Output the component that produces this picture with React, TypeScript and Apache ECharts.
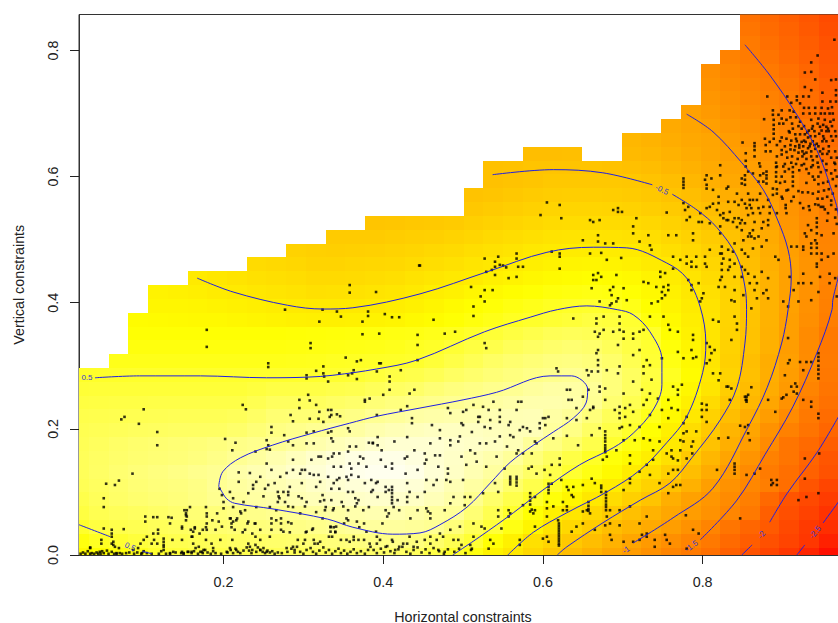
import React, { useEffect, useRef } from "react";
import * as echarts from "echarts";

const xTicks = [0.2, 0.4, 0.6, 0.8];
const yTicks = [0, 0.2, 0.4, 0.6, 0.8];
const firstX = 0.019, stepX = 0.02471, firstY = 0.0006, stepY = 0.02192;

// z * 100 per image row, bottom row first; leading empty cells counted in heatSkip
const heatSkip = [0,0,0,0,0,0,0,0,0,0,0,0,0,0,2,3,3,3,4,4,6,9,11,13,15,20,20,21,21,23,28,30,31,32,32,32,33,34,34,34];
const _ = null;
const heatRows: (number | null)[][] = [
[20,28,35,43,52,58,62,65,67,68,70,72,74,76,78,79,78,74,63,50,37,13,-4,-25,-46,-62,-76,-92,-107,-122,-138,-153,-167,-189,-207,-225,-245,-270,-300],
[35,45,52,58,63,67,70,73,76,78,80,82,85,88,90,92,93,90,80,68,54,31,9,-13,-29,-45,-60,-76,-93,-110,-125,-140,-155,-175,-193,-210,-227,-245,-275],
[50,60,65,68,72,75,78,82,85,88,90,93,96,100,103,105,105,103,100,88,72,56,38,15,-8,-25,-42,-60,-72,-88,-104,-120,-140,-160,-180,-197,-220,-240,-257],
[60,68,72,75,78,82,85,88,92,95,98,100,105,108,112,114,114,110,105,102,85,68,50,30,10,-5,-25,-42,-57,-75,-91,-105,-120,-137,-154,-190,-212,-230,-250],
[65,72,78,82,85,88,92,98,103,107,110,115,118,122,125,127,127,124,118,110,97,80,65,50,33,17,-3,-18,-35,-52,-80,-100,-115,-130,-146,-176,-205,-220,-238],
[70,75,80,85,88,90,93,100,106,110,115,120,125,130,133,135,135,132,125,116,107,98,80,65,50,33,15,3,-15,-33,-55,-78,-103,-120,-135,-147,-170,-205,-225],
[72,77,83,87,90,93,97,100,110,115,120,127,132,138,142,144,144,140,132,124,115,106,92,78,65,52,38,22,3,-14,-35,-60,-85,-108,-130,-152,-168,-188,-208],
[72,76,80,83,85,87,90,94,100,106,113,120,127,133,138,140,140,136,130,125,118,112,103,88,75,62,47,33,20,5,-12,-45,-70,-95,-117,-143,-160,-182,-202],
[70,74,78,81,83,85,87,90,94,97,100,106,112,118,122,127,130,130,130,127,125,122,117,103,92,80,65,52,38,20,0,-25,-55,-80,-105,-130,-160,-175,-193],
[68,70,72,74,75,76,76,76,80,86,92,96,100,105,107,113,117,120,122,122,122,120,118,118,105,93,77,63,50,30,8,-18,-45,-72,-95,-120,-143,-162,-180],
[65,66,67,68,69,70,70,70,72,77,84,85,85,90,93,100,104,108,110,112,113,115,116,117,108,102,88,72,58,42,20,-3,-33,-60,-83,-105,-130,-155,-172],
[60,61,62,62,63,63,63,63,63,68,74,74,74,77,80,86,90,93,97,100,104,107,110,112,112,110,100,83,68,52,30,8,-20,-48,-70,-93,-120,-147,-165],
[55,56,56,56,56,56,56,56,56,59,62,62,62,65,67,72,76,79,85,90,93,97,100,105,108,108,102,88,75,58,40,18,-7,-38,-63,-85,-110,-140,-160],
[48,49,49,50,50,50,50,50,50,50,50,50,50,52,53,58,62,65,70,76,81,86,90,94,97,100,97,88,75,60,45,25,-3,-32,-58,-82,-105,-132,-156],
[41,41,41,41,41,41,41,41,41,42,43,45,46,47,48,50,56,63,70,77,82,86,90,91,88,80,68,54,38,20,-7,-35,-60,-83,-103,-128,-153],
[35,35,35,35,35,35,35,35,36,37,38,39,40,42,45,48,54,60,65,72,76,80,83,80,72,62,52,33,15,-8,-33,-55,-78,-105,-130,-155],
[30,30,30,30,30,30,30,30,31,32,33,34,35,37,38,41,44,49,55,60,65,70,72,70,65,56,50,28,10,-7,-32,-55,-78,-103,-130,-155],
[24,23,22,21,20,18,15,12,10,8,8,9,12,15,20,25,30,35,40,45,49,53,56,60,58,52,35,20,6,-7,-30,-53,-77,-102,-125,-148],
[17,16,15,13,10,7,4,0,-2,-2,-1,2,6,10,15,22,27,32,37,41,45,48,50,47,40,27,14,2,-10,-30,-52,-77,-100,-122,-145],
[12,10,7,3,0,-4,-7,-10,-13,-12,-11,-8,-5,-1,5,10,16,20,26,30,34,36,38,36,30,20,9,-3,-14,-32,-53,-77,-100,-120,-142],
[0,-4,-8,-12,-15,-18,-22,-22,-20,-18,-15,-10,-5,-2,2,8,13,18,22,25,27,25,20,12,3,-8,-20,-35,-55,-77,-100,-118,-140],
[-20,-23,-26,-30,-30,-28,-26,-24,-20,-16,-12,-7,-3,3,7,11,14,15,13,8,2,-3,-17,-28,-40,-60,-80,-100,-118,-138],
[-33,-36,-37,-36,-34,-32,-29,-25,-22,-17,-12,-8,-3,0,3,3,3,0,-7,-15,-25,-36,-47,-63,-83,-102,-120,-138],
[-43,-43,-42,-40,-37,-35,-31,-27,-22,-18,-13,-10,-8,-8,-9,-12,-17,-25,-33,-43,-55,-70,-87,-107,-125,-140],
[-50,-49,-47,-45,-42,-37,-33,-29,-25,-21,-19,-19,-20,-22,-26,-33,-41,-52,-63,-78,-95,-115,-130,-145],
[-47,-43,-38,-34,-30,-29,-29,-30,-33,-38,-44,-52,-60,-72,-85,-98,-117,-133,-147],
[-53,-50,-46,-43,-40,-38,-38,-40,-42,-46,-53,-60,-70,-82,-93,-103,-122,-137,-150],
[-56,-53,-50,-47,-46,-46,-47,-48,-53,-60,-70,-80,-90,-98,-107,-122,-137,-150],
[-56,-55,-52,-52,-52,-52,-55,-58,-62,-70,-78,-87,-96,-103,-113,-128,-142,-158],
[-60,-60,-59,_,_,-65,-70,-77,-85,-93,-102,-110,-120,-135,-145,-165],
[-70,-75,-83,-90,-95,-107,-117,-128,-140,-153,-172],
[-88,-95,-103,-113,-123,-133,-142,-155,-178],
[-100,-110,-120,-130,-140,-150,-165,-183],
[-115,-125,-135,-143,-153,-170,-188],
[-120,-130,-140,-149,-160,-175,-192],
[-125,-136,-146,-155,-167,-180,-198],
[-142,-152,-162,-175,-187,-203],
[-153,-168,-180,-193,-208],
[-160,-173,-185,-198,-213],
[-165,-178,-190,-203,-218],
];

// contour segments, x and y * 1000
const contour1 = [[194,109],[199,132],[221,154],[261,174],[311,193],[358,209],[392,220],[446,233],[500,246],[542,258],[609,284],[636,284],[656,263],[654,241],[638,217],[613,195],[588,174],[559,147],[534,114],[505,76],[471,48],[446,35],[412,33],[362,44],[330,57],[262,73],[214,82],[204,89],[199,98],[194,109]];
const contour05 = [[39,281],[95,284],[171,284],[254,281],[305,282],[337,285],[392,295],[442,309],[527,354],[584,377],[618,389],[655,395],[693,389],[713,381],[734,354],[749,309],[749,270],[738,230],[713,193],[688,170],[646,143],[600,103],[563,67],[521,29],[487,0]];
const contour05b = [[19,48],[58,29]];
const contour05c = [[98,6],[110,2]];
const contour0 = [[167,439],[212,417],[280,396],[325,390],[362,392],[446,414],[530,449],[605,480],[663,488],[705,487],[755,463],[780,439],[797,393],[804,336],[800,289],[780,219],[755,178],[722,135],[680,100],[630,67],[588,36],[556,0]];
const contourM05a = [[537,603],[613,611],[675,606],[737,587]];
const contourM05b = [[762,572],[793,547],[818,519],[843,473],[853,425],[855,389],[853,336],[843,266],[822,214],[787,155],[759,114],[722,87],[675,51],[630,13],[618,0]];
const contourM1 = [[780,699],[813,671],[849,622],[876,579],[894,531],[907,484],[911,441],[907,389],[899,336],[881,266],[857,203],[813,106],[763,59],[713,19]];
const contourM15 = [[853,809],[884,761],[918,698],[943,642],[960,584],[970,536],[971,457],[963,404],[962,389],[943,320],[913,235],[878,159],[843,87],[797,24]];
const contourM2a = [[970,219],[943,162],[906,98],[884,52]];
const contourM2b = [[862,16],[849,0]];
const contourM25a = [[970,84],[951,51]];
const contourM25b = [[928,16],[918,0]];

const contourSegments = [contour1, contour05, contour05b, contour05c, contour0, contourM05a, contourM05b, contourM1, contourM15, contourM2a, contourM2b, contourM25a, contourM25b];
const contourLabels: [number, number, string, number][] = [[29,281,"0.5",0],[83,13,"0.5",-25],[749,579,"-0.5",-25],[704,8,"-1",35],[786,14,"-1.5",35],[874,32,"-2",50],[941,36,"-2.5",50]];

// observed points, flat x,y pairs * 1000
const pointsBottom = [21,2,24,4,27,2,30,6,33,2,35,3,38,2,41,4,43,2,46,2,48,6,50,3,56,2,60,5,63,2,66,2,70,3,73,2,78,3,82,4,88,2,92,4,97,2,100,6,104,3,110,2,119,2,122,6,128,2,133,3,140,4,147,3,150,2,155,5,160,3,163,6,168,2,171,5,174,3,177,8,180,4,184,2,187,6,190,3,197,2,205,4,209,8,212,3,215,10,218,5,221,3,225,7,229,12,232,7,235,3,240,16,243,12,246,8,249,5,252,3,255,7,258,4,261,6,264,2,268,4,273,3,280,5,285,10,289,4,292,13,296,5,300,2,304,8,309,11,312,5,316,2,320,7,325,12,328,4,332,8,336,2,340,6,344,10,347,3,351,7,355,2,359,5,363,9,367,3,372,6,377,2,381,8,384,13,388,8,392,3,397,10,401,4,405,14,409,6,414,3,419,9,424,13,429,5,434,2,438,8,443,12,448,4,453,9,458,3,463,11,470,6,476,2,481,9,489,5,495,10,503,3,510,8];
const pointsLowerLeft = [50,90,50,76,53,113,64,111,69,118,86,129,50,42,60,40,60,34,75,41,47,24,60,18,64,13,33,12,102,61,102,53,112,60,117,60,118,40,112,34,104,29,100,24,96,18,125,26,125,16,125,8,131,60,135,59,133,50,148,42,148,24,136,24,151,71,153,63,158,76,153,55,159,40,164,44,161,29,170,34,174,40,178,44,178,76,179,66,186,55,190,40,192,66,200,74,200,84,198,95,195,105,209,58,210,44,216,55,214,40,222,66,211,24,224,36,230,50,239,50,227,71,236,34,246,24,258,29,260,58,266,55,272,50,272,40,281,52,285,50,283,36,293,24,303,36,311,40,313,24,318,18,334,44,336,29,338,44,340,36,347,24,363,24,376,24,392,18,403,13,411,24,420,13,430,18,438,13];
const pointsBandExtra = [33,11,45,5,54,7,66,3,62,16,60,29,47,18,62,21,69,11,87,8,93,11,98,3,110,18,113,24,117,18,118,34,125,21,125,13,133,2,137,5,148,5,150,3,156,5,160,5,165,11,169,13,173,5,175,8,154,71,153,66,154,61,148,45,160,29,162,37,164,42,162,18,179,61,179,50,179,40,178,24,185,18,187,11,194,53,198,45,196,24,204,5,208,11,216,8,208,58,210,50,212,53,217,58,221,69,233,13,236,8,241,5,246,8,254,5,250,11,231,53,227,40,231,18,240,50,240,29,246,40,260,50,260,40,272,58,279,11,287,13,289,8,300,18,302,24,304,37,312,42,314,18,321,21,334,45,334,37,332,29,340,37,341,45,354,24,358,21,363,29,369,24,379,37,383,18,392,29,396,24,412,21,415,8,425,18,433,29,442,21];
const pointsSparseLeft = [179,357,179,330,76,219,72,215,100,231,94,208,117,195,117,174,224,238,228,231,202,184,215,178,211,166,240,164,254,182,260,203,260,194,256,174,254,168,258,167,276,190,281,180,287,174,284,222,287,212,295,233,295,246,306,254,308,245,316,238,320,227,331,230,335,230,333,219,342,223,346,220,308,216,319,216,325,211,335,222,304,194,313,196,331,194,335,196,356,201,358,196,335,185,337,180,313,177,304,177,366,172,358,172,382,178,387,178,393,187,393,174,408,283,408,275,408,262,400,254,383,248,377,246,377,243,392,222,422,230,430,236,433,256,439,262,436,217,436,209,443,333,443,349,395,351,374,350,320,370,309,336,309,328,256,304,256,298,353,313,363,293,367,307,372,309,395,304,397,304,392,291,361,288,356,285,345,288,325,299,316,292,325,288,326,283,331,275,304,285,304,280,367,279,422,293,443,309,342,386,347,378,381,386,381,379,374,370,402,382,411,377,420,377,277,389,324,389,358,428,358,416,391,417,445,459];
const pointsCentreLeft = [338,161,322,156,310,151,336,156,345,161,356,164,347,140,358,145,371,156,375,153,369,145,360,137,354,124,360,127,345,122,356,119,331,124,308,129,302,135,296,129,298,135,287,135,313,127,319,127,271,124,246,124,219,131,219,116,237,111,237,105,252,105,256,111,283,108,281,100,281,95,275,100,268,100,270,90,268,84,277,84,287,76,298,90,304,84,316,108,335,105,345,105,324,95,326,87,335,87,328,76,337,71,348,84,356,100,362,100,365,90,367,82,356,71,354,58,367,53,385,100,391,114,393,116,382,76,403,108,403,100,411,108,411,98,411,87,413,76,418,87,430,92,430,84,443,92,411,145,411,137,430,156,427,153,428,129,430,114,407,66,399,50,405,61,434,58,443,71,225,84,231,98,212,90,208,100,212,76,241,76,258,76,266,71,296,66,316,68,324,58,351,50,376,50,370,44,391,37,356,55,275,37,250,93,269,93,281,77,294,93,302,77,321,85,327,71,338,74,350,77,365,77,369,87,375,71,387,103,393,92,407,103,411,103,411,92,411,82,403,71,420,71,433,100,379,140,397,151,387,177,398,166,414,180,430,187,439,166,443,135,403,140,338,140,331,153,319,156,287,151,279,130,260,135,254,145,233,130,241,116,264,114,298,114,321,116,342,119,338,114,369,124,377,114,385,119];
const pointsCentreRight = [463,373,490,354,477,351,527,336,529,328,513,379,638,375,667,375,667,367,676,378,665,354,671,351,676,357,669,346,688,354,696,357,701,354,701,343,694,333,713,351,713,343,721,354,726,357,696,378,696,367,734,378,751,378,757,365,759,357,769,354,788,349,788,341,813,373,820,370,840,378,843,367,843,357,836,341,669,325,669,309,669,301,667,320,669,291,655,293,661,291,657,285,617,296,619,291,671,267,671,259,680,293,696,299,694,288,713,317,721,325,730,309,734,301,726,299,726,288,736,278,713,275,696,235,703,233,709,238,696,225,703,219,696,217,713,227,699,203,709,206,663,235,659,230,663,233,650,251,632,246,636,246,630,262,634,262,642,233,657,262,671,201,661,190,630,189,644,174,613,185,749,312,769,322,776,312,786,325,788,312,792,314,805,336,809,330,811,320,815,325,809,309,805,304,813,288,822,288,820,277,830,267,836,264,834,246,853,251,857,254,854,246,861,266,763,267,769,262,774,270,769,254,757,246,761,233,769,230,780,219,799,240,805,238,799,230,805,230,799,219,805,211,749,230,734,222,744,248,730,246,726,238,776,193,780,196,776,180,772,182,761,166,763,153,769,150,786,172,787,161,772,166,734,182,746,180,738,166,726,185,709,158,709,145,721,132,730,143,734,127,709,114,757,129,763,135,769,135,746,114,763,108,767,111,772,111,757,98,678,246,678,264,701,256,724,262,734,256,757,217,746,203,776,209,792,196,788,180,780,153,738,151,755,161,761,156,642,214,630,217,655,217,690,230,721,203,696,201,715,182,701,182,692,166,680,156];
const pointsStacks = [678,196,678,190,678,185,678,180,678,174,678,170,678,166,678,163,679,100,679,95,679,90,679,85,679,80,679,76,679,71,657,84,657,78,657,73,657,70,620,50,620,46,620,42,620,38,620,34,620,30,620,26,620,22,620,18,620,15,673,110,673,106,673,100,559,124,559,120,559,116,559,112,567,124,567,120,567,115,567,110,584,98,584,92,584,86,584,80,607,113,607,108,607,103,607,98,586,72,590,71,588,66,584,69,454,74,456,69,459,66,502,92,502,79];
const pointsCentre = [452,145,465,158,471,158,481,137,481,129,479,119,484,116,500,119,454,119,463,111,452,100,469,140,454,151,496,188,509,166,515,161,484,174,471,185,504,143,529,140,521,177,529,177,546,188,555,172,567,161,540,180,527,203,521,219,519,211,534,214,546,219,546,230,546,211,525,235,513,238,500,227,498,209,484,225,481,233,504,230,569,243,573,243,567,230,580,201,575,203,584,196,596,209,596,201,603,206,603,217,600,217,607,219,590,180,592,177,571,198,559,190,557,206,569,166,586,161,586,140,592,129,609,127,621,143,611,143,621,153,630,108,638,108,650,111,661,121,665,114,675,151,459,29,452,24,459,18,467,24,475,29,469,8,477,5,484,40,488,24,498,16,509,16,511,10,513,50,523,45,532,10,534,24,544,100,544,71,544,61,557,71,559,66,571,24,571,16,590,45,600,26,607,21,605,29,636,37,665,40,678,47,684,50,684,32,686,24,701,21,713,21,721,24,724,32,730,29,740,13,740,24,755,24,759,18,780,10,779,63,788,40,795,34,847,58,630,77,625,71,655,71,650,69,605,74,696,71,701,103,709,121,625,84,638,92,461,206,471,198,459,177,484,182,494,180,500,206,511,195,519,219,534,201,532,230,538,243,559,211,563,187,575,161,582,137,602,135,611,113,623,119,632,103,636,95,605,84,630,71,613,77,590,92,575,79,557,61,548,42,527,42,538,18,513,29,494,24,471,34,496,45,459,58,477,71,484,82,488,92,509,92,525,98,540,114,552,137,467,119,498,156,517,148,542,156,452,161,605,61,619,55,642,45,650,50,659,66,680,61,696,47,721,50,730,34,753,32,730,61,684,71,709,77];
const pointsLowerRight = [840,145,840,140,840,135,840,129,818,135,855,127,865,129,872,137,886,119,888,114,893,119,886,111,893,111,928,153,928,121,920,87,930,92,945,98,946,161,922,306,930,306,936,306,945,320,945,314,945,308,945,300,945,294,945,287,945,280,926,293,909,309,903,285,916,272,918,267,911,267,905,254,901,250,914,259,899,248,918,256,926,246,936,243,936,235,945,224,945,217,891,227,882,246,855,251,855,246,855,243,832,267,847,205,853,203,857,206,857,193,859,182,832,186,820,185,907,344,907,304];
const pointsMidRight = [776,597,776,592,776,587,776,582,805,602,803,595,805,587,805,581,811,597,822,618,822,602,850,654,865,653,865,648,865,642,854,637,854,625,854,616,865,632,871,621,872,616,853,602,853,595,853,587,849,597,849,589,857,608,863,605,872,602,876,605,880,608,880,602,880,597,870,592,880,589,876,592,843,573,832,584,830,581,813,579,820,568,820,558,809,552,805,550,813,557,832,560,840,560,845,555,849,563,857,573,859,563,859,555,861,550,863,563,863,542,857,539,853,557,855,550,872,573,876,552,882,563,884,552,888,571,899,568,904,555,904,550,893,542,834,544,826,542,826,534,830,531,840,534,838,528,845,534,849,531,853,526,849,515,859,510,865,528,874,518,876,528,882,531,882,523,880,499,874,489,865,502,861,505,822,521,822,510,809,526,824,489,824,478,824,462,824,452,834,468,834,457,840,462,849,484,853,478,857,446,849,441,822,436,828,425,820,425,840,420,851,412,836,404,840,402,861,391,868,407,876,415,882,407,868,431,865,420,895,468,891,473,911,489,918,489,926,489,936,494,936,487,936,478,943,494,943,487,943,478,949,468,943,462,930,505,928,510,932,523,943,534,943,527,943,520,943,510,949,507,941,499,926,446,936,431,943,457,926,431,945,417,909,441,907,394,920,431,920,402,901,402,959,446,966,439,959,431,818,547,822,539,832,531,843,520,847,526,851,499,857,505,863,515,870,505,863,486,857,473,838,481,840,494,832,484,822,478,826,470,832,452,824,441,840,441,849,457,853,452,859,431,865,441,874,449,880,420,882,439,872,542,884,542,868,563,870,550,888,581,893,573,903,592,901,616,893,616,907,579,914,568,905,542,926,550,934,547,945,555,951,552,957,542,936,515,926,484,949,478,957,473,964,510,964,478,968,410,947,441,936,404,914,420];
const pointsUpperMiddle = [782,552,776,558,778,547,780,531,784,536,795,528,799,528,797,542,788,499,788,510,767,507,757,507,734,491,736,484,732,507,721,497,717,534,713,521,713,510,803,473,792,473,792,457,786,465,786,457,803,462,805,457,809,484,780,473,772,468,763,473,763,454,780,462,795,431,786,420,801,415,797,402,799,407,782,436,786,428,742,425,751,425,757,428,749,417,753,412,749,407,757,420,736,399,744,402,747,449,753,447,747,441,726,433,732,431,688,425,684,420,701,423,692,444,686,412,694,407,705,404,686,399,684,396,692,402,663,444,669,447,673,441,663,436,667,436,661,423,671,402,650,499,669,507,669,497,678,494,688,494,659,531,663,528,671,531,688,547,694,550,694,544,699,544,755,543,621,555,605,559,597,539,623,534,659,478,673,479,680,468,698,471,621,478,621,473,611,481,621,454,544,473,527,470,567,478,567,470,540,465,540,457,546,460,550,459,554,456,569,457,575,457,536,452,529,449,540,444,557,439,567,441,510,425,527,420,537,420,522,410,527,402,513,394,446,459];
const pointsTopRight = [965,817,944,792,936,781,928,765,936,766,941,754,961,753,967,754,928,742,936,737,967,737,967,729,950,733,881,727,906,727,918,727,926,727,933,727,918,721,950,719,960,719,967,719,911,717,922,716,927,709,933,709,941,709,949,709,957,708,962,710,888,705,899,705,888,698,895,698,899,692,877,691,889,690,909,705,914,703,934,700,953,700,963,700,922,687,936,690,945,692,953,690,960,687,889,682,896,684,901,684,920,680,927,680,938,680,947,679,955,679,962,680,889,675,913,676,933,673,940,672,949,673,955,672,966,672,889,668,899,662,909,670,916,667,922,667,928,667,935,664,941,664,951,664,961,664,967,664,889,660,878,660,905,660,911,657,918,656,924,655,929,655,935,652,943,652,950,656,955,656,963,657,910,650,916,648,921,650,926,648,932,645,936,640,941,644,947,640,958,648,966,640,879,640,885,640,899,642,905,639,910,643,915,642,920,638,925,640,930,638,936,632,943,632,958,640,968,630,893,632,899,635,906,630,912,632,919,628,925,632,930,628,938,626,950,625,955,620,965,622,892,622,903,620,911,622,913,615,913,607,913,600,913,592,913,585,892,615,892,607,892,600,892,592,924,618,930,612,936,615,945,615,948,607,933,605,938,600,945,600,955,610,961,605,966,610,940,595,930,590,945,588,951,590,957,592,963,596,968,600,920,577,925,575,932,575,938,573,945,576,952,578,958,580,963,573,967,585,944,565,950,565,956,568,961,562,941,556,948,552,953,548,961,555,967,548,893,580,905,578,900,565,911,561,922,558,933,553,966,535,968,525,956,530,879,650,884,655,893,650,897,656,903,648,908,672,917,660,927,657,932,662,938,656,946,668,952,660,958,672,964,690,959,700,948,700,941,700,926,700,917,694,910,694,905,690,912,684,924,676,931,670,937,676,944,684,951,682,957,676,921,646,927,636,934,648,940,650,945,648,951,644,956,636,961,630,966,620,950,636,944,622,938,618,927,620,921,610,917,620,908,612,903,608,899,600,897,590];

const pointGroups = [pointsBottom, pointsLowerLeft, pointsBandExtra, pointsSparseLeft, pointsCentreLeft, pointsCentreRight, pointsStacks, pointsCentre, pointsLowerRight, pointsMidRight, pointsUpperMiddle, pointsTopRight];

const FONT = "Liberation Sans";
const INK = "#222222";

export default function App() {
  const ref = useRef<HTMLDivElement>(null);
  useEffect(() => {
    const chart = echarts.init(ref.current!, undefined, { renderer: "svg" });
    const cells: number[][] = [];
    heatRows.forEach((row, j) => {
      row.forEach((z, i) => {
        if (z !== null) cells.push([firstX + (i + heatSkip[j]) * stepX, firstY + j * stepY, z / 100]);
      });
    });
    const scatterData: number[][] = [];
    pointGroups.forEach((g) => {
      for (let i = 0; i < g.length; i += 2) scatterData.push([g[i] / 1000, g[i + 1] / 1000]);
    });
    const renderCell = (params: any, api: any) => {
      const x = api.value(0), y = api.value(1);
      const a = api.coord([x - stepX / 2, y + stepY / 2]);
      const b = api.coord([x + stepX / 2, y - stepY / 2]);
      const l = Math.round(a[0]), t = Math.round(a[1]), r = Math.round(b[0]), o = Math.round(b[1]);
      const cs = params.coordSys;
      const shape = echarts.graphic.clipRectByRect(
        { x: l, y: t, width: r - l, height: o - t },
        { x: cs.x, y: cs.y, width: cs.width, height: cs.height }
      );
      return shape ? { type: "rect", shape, style: { fill: api.visual("color") } } : null;
    };
    const tickStyle = { show: true, length: 9, lineStyle: { color: INK, width: 1 } };
    chart.setOption({
      animation: false,
      backgroundColor: "#ffffff",
      textStyle: { fontFamily: FONT },
      grid: { left: 79, top: 14.5, width: 768, height: 540.5, outerBoundsMode: "none", show: true, borderColor: "#333333", borderWidth: 1, backgroundColor: "transparent" },
      visualMap: {
        show: false, type: "continuous", seriesIndex: 0, dimension: 2, min: -3.2, max: 1.45,
        inRange: { color: ["#FF0000", "#FF5500", "#FFAA00", "#FFFF00", "#FFFFF0"] },
      },
      xAxis: {
        type: "value", min: 0.019, max: 0.9808, splitLine: { show: false },
        name: "Horizontal constraints", nameLocation: "middle", nameGap: 55,
        nameTextStyle: { fontFamily: FONT, fontSize: 14.3, color: INK },
        axisLine: { show: true, onZero: false, lineStyle: { color: "#333333" } },
        axisTick: { ...tickStyle, customValues: xTicks },
        axisLabel: { customValues: xTicks, margin: 20, fontFamily: FONT, fontSize: 14.3, color: INK, formatter: (v: number) => v.toFixed(1) },
      },
      yAxis: {
        type: "value", min: 0, max: 0.857, splitLine: { show: false },
        name: "Vertical constraints", nameLocation: "middle", nameGap: 53, nameRotate: 90,
        nameTextStyle: { fontFamily: FONT, fontSize: 14.3, color: INK },
        axisLine: { show: true, onZero: false, lineStyle: { color: "#333333" } },
        axisTick: { ...tickStyle, customValues: yTicks },
        axisLabel: { customValues: yTicks, rotate: 90, margin: 19, fontFamily: FONT, fontSize: 14.3, color: INK, align: "center", verticalAlign: "bottom", formatter: (v: number) => v.toFixed(1) },
      },
      series: [
        { type: "custom", coordinateSystem: "cartesian2d", data: cells, encode: { x: 0, y: 1 }, renderItem: renderCell, z: 1, silent: true },
        { type: "scatter", data: scatterData, symbol: "rect", symbolSize: 2.6, itemStyle: { color: "#000000" }, z: 3, silent: true, clip: true },
        ...contourSegments.map((seg) => ({
          type: "line", data: seg.map((p) => [p[0] / 1000, p[1] / 1000]), smooth: 0.35, symbol: "none", z: 4, silent: true,
          lineStyle: { color: "#2020E0", width: 1 },
        })),
        {
          type: "scatter", symbol: "circle", symbolSize: 1, itemStyle: { color: "transparent" }, z: 5, silent: true,
          data: contourLabels.map((l) => ({
            value: [l[0] / 1000, l[1] / 1000],
            label: { show: true, formatter: l[2], position: "inside", rotate: l[3], fontSize: 8, fontFamily: FONT, color: "#3A3AD0", opacity: 1 },
          })),
        },
      ],
    });
    return () => chart.dispose();
  }, []);
  return <div ref={ref} style={{ position: "fixed", left: 0, top: 0, width: 838, height: 623, overflow: "hidden" }} />;
}
